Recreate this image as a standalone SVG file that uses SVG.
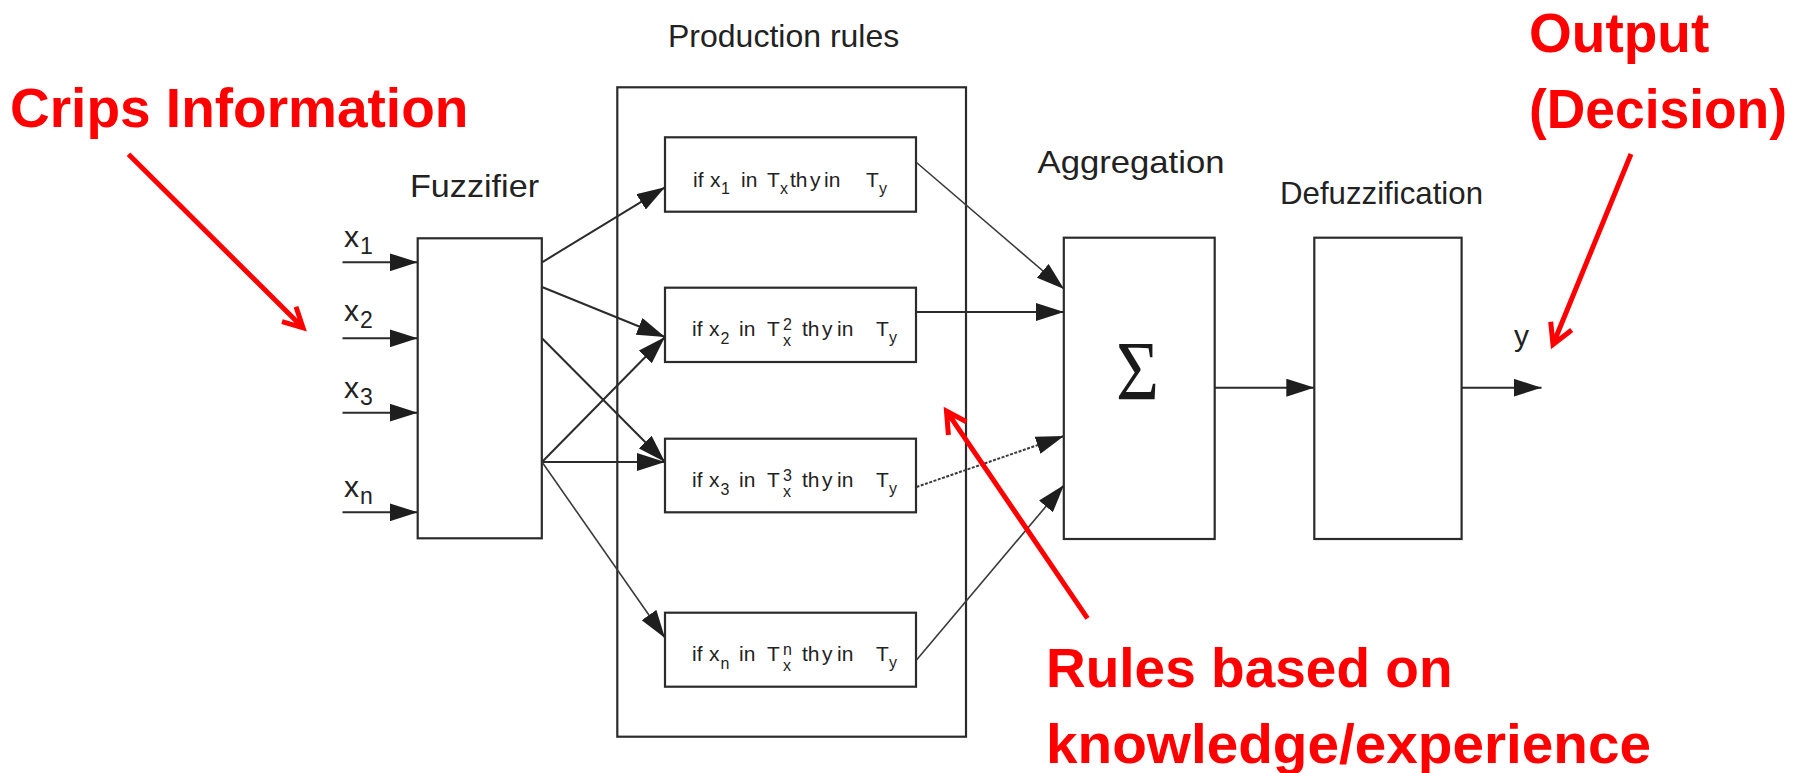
<svg xmlns="http://www.w3.org/2000/svg" width="1808" height="773" viewBox="0 0 1808 773">
<style>
.bx{fill:#fff;stroke:#2b2b2b;stroke-width:2.2}
.lb{font-family:"Liberation Sans",Arial,sans-serif;font-size:32px;fill:#222}
.rt{font-family:"Liberation Sans",Arial,sans-serif;font-size:21px;fill:#222}
.sm{font-size:16px}
.in{font-family:"Liberation Sans",Arial,sans-serif;font-size:30px;fill:#222}
.ins{font-size:23px}
.red{font-family:"Liberation Sans",Arial,sans-serif;font-weight:bold;font-size:55px;fill:#ff0000}
.c{fill:none;stroke:#2b2b2b;stroke-width:2;marker-end:url(#ah)}
.ct{fill:none;stroke:#3a3a3a;stroke-width:1.6;marker-end:url(#ah)}
.cd{fill:none;stroke:#3a3a3a;stroke-width:2;stroke-dasharray:3 1.5;marker-end:url(#ah)}
.ra{fill:none;stroke:#ff0000;stroke-width:5;stroke-linejoin:miter}
</style>
<defs>
<marker id="ah" markerUnits="userSpaceOnUse" markerWidth="28" markerHeight="18" refX="28" refY="9" orient="auto">
<path d="M0,0 L28,9 L0,18 z" fill="#1e1e1e"/>
</marker>
</defs>
<rect width="1808" height="773" fill="#fff"/>

<g id="production-rules">
<rect class="bx" x="617.3" y="87.3" width="348.7" height="649.4"/>
<text class="lb" x="668" y="46.7">Production rules</text>
</g>

<g id="fuzzifier">
<rect class="bx" x="417.7" y="238.3" width="124.1" height="300"/>
<text class="lb" x="410" y="196.7" textLength="129" lengthAdjust="spacingAndGlyphs">Fuzzifier</text>
</g>

<g id="inputs">
<text class="in"><tspan x="344" y="246.7">x</tspan><tspan class="ins" x="360" y="253.5">1</tspan></text>
<text class="in"><tspan x="344" y="320.5">x</tspan><tspan class="ins" x="360" y="328">2</tspan></text>
<text class="in"><tspan x="344" y="398">x</tspan><tspan class="ins" x="360" y="405">3</tspan></text>
<text class="in"><tspan x="344" y="496.7">x</tspan><tspan class="ins" x="360" y="503.5">n</tspan></text>
</g>

<g id="rule1">
<rect class="bx" x="665" y="137.3" width="251" height="74.4"/>
<text class="rt"><tspan x="693" y="187">if</tspan><tspan x="710" y="187">x</tspan><tspan class="sm" x="721" y="194">1</tspan><tspan x="741" y="187">in</tspan><tspan x="767" y="187">T</tspan><tspan class="sm" x="780" y="194">x</tspan><tspan x="790" y="187">th</tspan><tspan x="810" y="187">y</tspan><tspan x="824" y="187">in</tspan><tspan x="866" y="187">T</tspan><tspan class="sm" x="879" y="194">y</tspan></text>
</g>

<g id="rule2">
<rect class="bx" x="665" y="287.7" width="251" height="74.3"/>
<text class="rt"><tspan x="692" y="336">if</tspan><tspan x="709" y="336">x</tspan><tspan class="sm" x="720.5" y="344">2</tspan><tspan x="739" y="336">in</tspan><tspan x="767" y="336">T</tspan><tspan class="sm" x="783" y="330">2</tspan><tspan class="sm" x="783" y="346">x</tspan><tspan x="802" y="336">th</tspan><tspan x="822" y="336">y</tspan><tspan x="837" y="336">in</tspan><tspan x="876" y="336">T</tspan><tspan class="sm" x="889" y="343">y</tspan></text>
</g>

<g id="rule3">
<rect class="bx" x="665" y="438.7" width="251" height="73.6"/>
<text class="rt"><tspan x="692" y="487">if</tspan><tspan x="709" y="487">x</tspan><tspan class="sm" x="720.5" y="495">3</tspan><tspan x="739" y="487">in</tspan><tspan x="767" y="487">T</tspan><tspan class="sm" x="783" y="481">3</tspan><tspan class="sm" x="783" y="497">x</tspan><tspan x="802" y="487">th</tspan><tspan x="822" y="487">y</tspan><tspan x="837" y="487">in</tspan><tspan x="876" y="487">T</tspan><tspan class="sm" x="889" y="494">y</tspan></text>
</g>

<g id="rule4">
<rect class="bx" x="665" y="612.7" width="251" height="74"/>
<text class="rt"><tspan x="692" y="661">if</tspan><tspan x="709" y="661">x</tspan><tspan class="sm" x="720.5" y="669">n</tspan><tspan x="739" y="661">in</tspan><tspan x="767" y="661">T</tspan><tspan class="sm" x="783" y="655">n</tspan><tspan class="sm" x="783" y="671">x</tspan><tspan x="802" y="661">th</tspan><tspan x="822" y="661">y</tspan><tspan x="837" y="661">in</tspan><tspan x="876" y="661">T</tspan><tspan class="sm" x="889" y="668">y</tspan></text>
</g>

<g id="aggregation">
<rect class="bx" x="1063.8" y="237.7" width="150.9" height="301.3"/>
<text class="lb" x="1037.5" y="173.3" textLength="187" lengthAdjust="spacingAndGlyphs">Aggregation</text>
<text x="1137.5" y="400.5" text-anchor="middle" font-family="'Liberation Serif','Times New Roman',serif" font-size="84" fill="#1a1a1a" transform="translate(1137.5 0) scale(0.88 1) translate(-1137.5 0)">Σ</text>
</g>

<g id="defuzzification">
<rect class="bx" x="1314.3" y="237.7" width="147.3" height="301.3"/>
<text class="lb" x="1280" y="204" textLength="203" lengthAdjust="spacingAndGlyphs">Defuzzification</text>
</g>

<g id="output">
<text class="in" x="1514" y="346">y</text>
</g>

<g id="connectors">
<path class="c" d="M342.5,262.3 H417.7"/>
<path class="c" d="M342.5,338.3 H417.7"/>
<path class="c" d="M342.5,412.7 H417.7"/>
<path class="c" d="M342.5,512.3 H417.7"/>
<path class="c" d="M542,262.3 L665,187.3"/>
<path class="c" d="M542,287 L665,337"/>
<path class="c" d="M542,338.3 L665,462"/>
<path class="c" d="M542,462 L665,337"/>
<path class="c" d="M542,462 L665,462"/>
<path class="ct" d="M542,462 L665,638"/>
<path class="ct" d="M916.5,162.5 L1064,289"/>
<path class="c" d="M916.5,312 L1064,312"/>
<path class="cd" d="M916.5,487 L1064,436"/>
<path class="ct" d="M916.5,660 L1064,485"/>
<path class="c" d="M1214.7,387.7 L1314.3,387.7"/>
<path class="c" d="M1461.6,387.7 L1541.5,387.7"/>
</g>

<g id="annotations">
<text class="red" x="10" y="127">Crips Information</text>
<text class="red" x="1529" y="51.7">Output</text>
<text class="red" x="1529" y="128.3" textLength="258" lengthAdjust="spacingAndGlyphs">(Decision)</text>
<text class="red" x="1046" y="686.7">Rules based on</text>
<text class="red" x="1046" y="763.3" textLength="605" lengthAdjust="spacingAndGlyphs">knowledge/experience</text>
<path class="ra" d="M128.5,154.3 L303,327.8 M296,306.7 L303,327.8 L282,321.7"/>
<path class="ra" d="M1631,154 L1553,344.5 M1550.7,321.7 L1553,344.5 L1571.7,330"/>
<path class="ra" d="M1087.5,618.3 L946.5,411.2 M948.4,435 L946.5,411.2 L966.4,421.7"/>
</g>
</svg>
